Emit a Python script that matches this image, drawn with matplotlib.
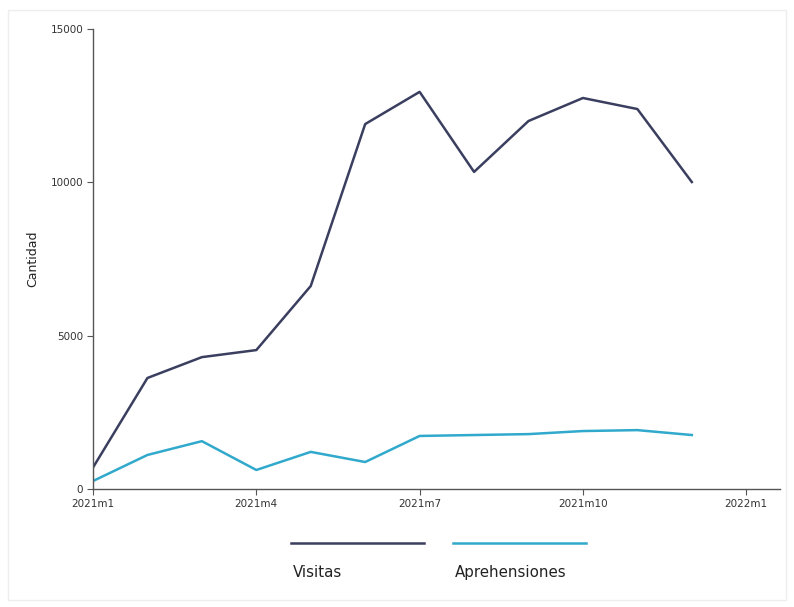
import matplotlib
matplotlib.use("Agg")
import matplotlib.pyplot as plt
from matplotlib.patches import Rectangle
from matplotlib.lines import Line2D

# monthly series, 2021m1 .. 2021m12
months = list(range(12))
visitas = [700, 3620, 4300, 4530, 6620, 11900, 12950, 10340, 12000, 12750, 12390, 10010]
aprehensiones = [260, 1110, 1560, 620, 1210, 880, 1730, 1760, 1790, 1890, 1920, 1760]

tick_pos = [0, 3, 6, 9, 12]
tick_labels = ["2021m1", "2021m4", "2021m7", "2021m10", "2022m1"]

c_vis = "#3b3f5f"
c_apr = "#31a9cc"
axis_col = "#555555"

W, H = 794, 607
fig = plt.figure(figsize=(W / 100, H / 100), dpi=100)
fig.patches.append(Rectangle((8 / W, 1 - 600 / H), 778 / W, 590 / H,
                             transform=fig.transFigure, fill=False,
                             edgecolor="#eeeeee", linewidth=1))

ax = fig.add_axes([93 / W, 1 - 489 / H, (780 - 93) / W, (489 - 29) / H])
ax.plot(months, visitas, color=c_vis, linewidth=1.8)
ax.plot(months, aprehensiones, color=c_apr, linewidth=1.8)

ax.set_xlim(0, 12.62)
ax.set_ylim(0, 15000)
ax.set_yticks([0, 5000, 10000, 15000])
ax.set_yticklabels(["0", "5000", "10000", "15000"])
ax.set_xticks(tick_pos)
ax.set_xticklabels(tick_labels)
ax.tick_params(labelsize=7.5, colors=axis_col, length=4, width=0.8, pad=3)
for lab in ax.get_xticklabels() + ax.get_yticklabels():
    lab.set_color("#333333")
for s in ["top", "right"]:
    ax.spines[s].set_visible(False)
for s in ["left", "bottom"]:
    ax.spines[s].set_color(axis_col)
    ax.spines[s].set_linewidth(1.0)
ax.set_ylabel("Cantidad", fontsize=9, color="#222222")
ax.yaxis.set_label_coords(-54 / (780 - 93), 0.5)

# legend: keys above labels, two columns
for x0, x1, col, txt in [(291, 424, c_vis, "Visitas"), (453, 586, c_apr, "Aprehensiones")]:
    fig.lines.append(Line2D([x0 / W, x1 / W], [1 - 543 / H, 1 - 543 / H],
                            transform=fig.transFigure, color=col, linewidth=1.8))
    fig.text((x0 + 2) / W, 1 - 577 / H, txt, fontsize=10.8, color="#222222",
             ha="left", va="baseline")

fig.savefig("out.png", dpi=100)
